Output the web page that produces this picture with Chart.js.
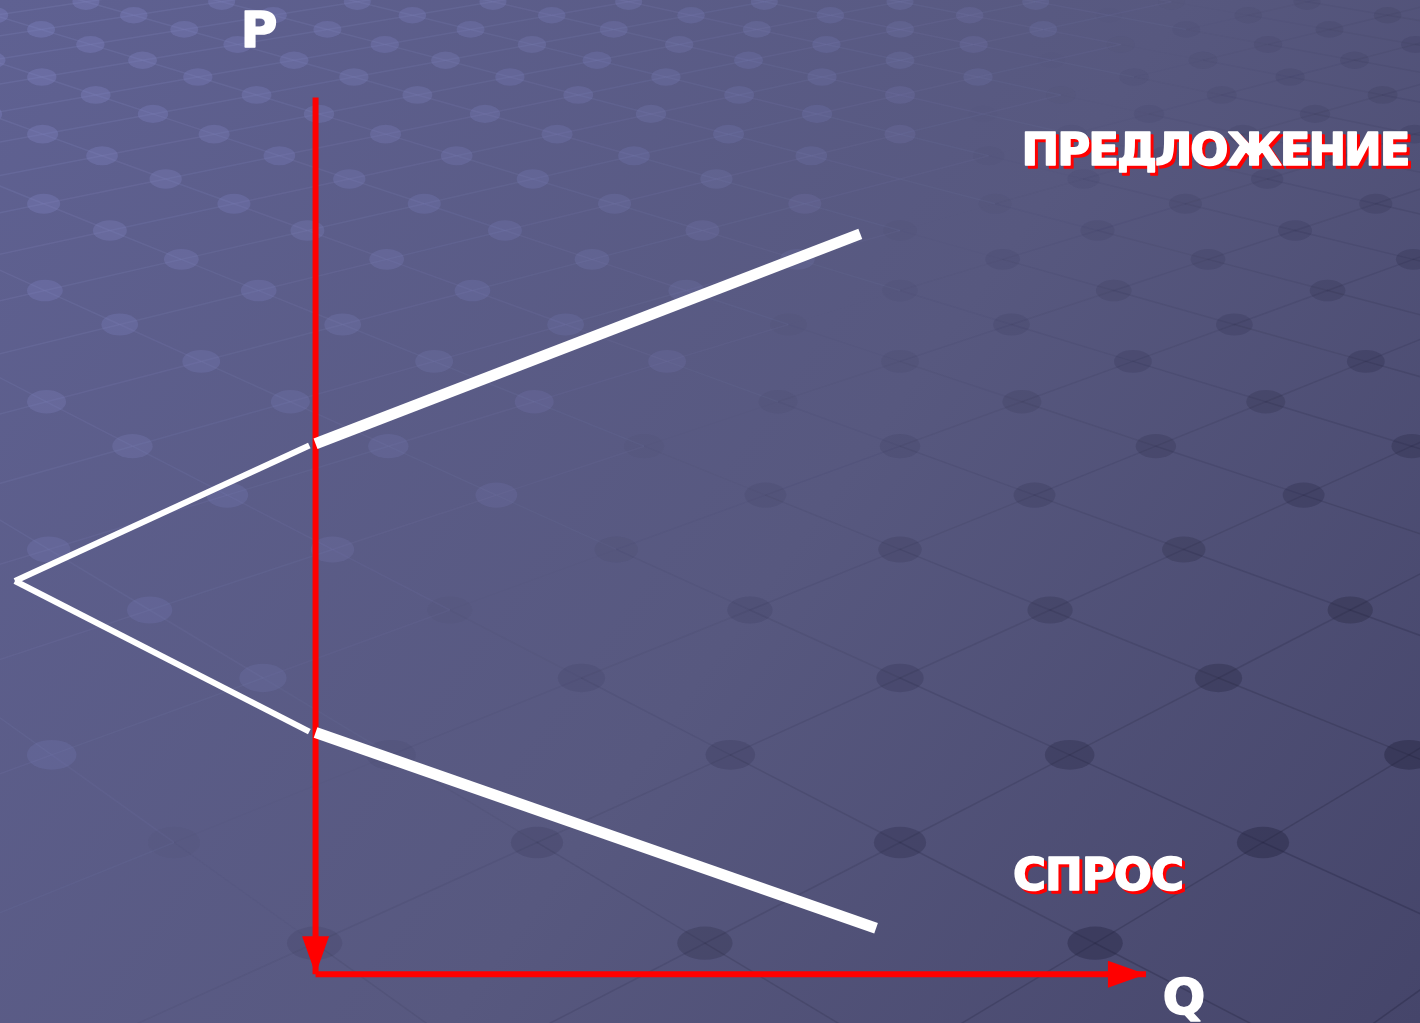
<!DOCTYPE html>
<html>
<head>
<meta charset="utf-8">
<title>Спрос и предложение</title>
<script src="https://cdn.jsdelivr.net/npm/chart.js@4.4.1/dist/chart.umd.min.js"></script>
<style>
  html, body { margin: 0; padding: 0; overflow: hidden; background: #54568a; }
  canvas { display: block; }
</style>
</head>
<body>
<canvas id="spChart" width="1420" height="1023"></canvas>
<script>
// Оси и кривые (Q - количество, P - цена)
const pAxisQ = [0, 0];
const pAxisP = [99, 0];
const qAxisQ = [0, 100];
const qAxisP = [0, 0];

// предложение: тонкая часть слева от оси P и основная часть
const supplyLeftQ = [-36.2, -0.75];
const supplyLeftP = [44.4, 59.7];
const supplyQ = [0, 65.6];
const supplyP = [59.9, 83.6];

// спрос
const demandLeftQ = [-36.2, -0.75];
const demandLeftP = [44.4, 27.4];
const demandQ = [0, 67.5];
const demandP = [27.3, 5.2];

const labelP = 'P';
const labelQ = 'Q';
const labelSupply = 'ПРЕДЛОЖЕНИЕ';
const labelDemand = 'СПРОС';

const pts = (qs, ps) => qs.map((q, i) => ({ x: q, y: ps[i] }));

// фон слайда: градиент + решётка с точками в перспективе
const slideBackground = {
    id: 'slideBackground',
    beforeDraw(chart) {
        const { ctx, width, height } = chart;
        ctx.save();
        const g = ctx.createLinearGradient(0, 0, width, height);
        g.addColorStop(0, '#5f6192');
        g.addColorStop(0.55, '#57587f');
        g.addColorStop(1, '#45456a');
        ctx.fillStyle = g;
        ctx.fillRect(0, 0, width, height);

        const hy = -500, K = 10000, a = 0.52, rho = 0.26, cx = 900, z0 = 0.169;
        const proj = (i, j) => {
            const Z = z0 + (i + j) * a;
            return [cx + K * rho * (i - j) * a / Z, hy + K / Z];
        };
        const shade = (x, y) => (x + 1.2 * y) / (width + 1.2 * height);

        // линии решётки
        ctx.lineWidth = 1.5;
        for (let i = 0; i < 45; i++) {
            for (let j = 0; j < 45; j++) {
                const n = i + j;
                if (n < 12 || n > 40) continue;
                const p = proj(i, j);
                [[i + 1, j], [i, j + 1]].forEach(([ii, jj]) => {
                    const q = proj(ii, jj);
                    if (Math.max(p[0], q[0]) < -60 || Math.min(p[0], q[0]) > width + 60) return;
                    const s = shade((p[0] + q[0]) / 2, (p[1] + q[1]) / 2);
                    ctx.strokeStyle = s < 0.45
                        ? 'rgba(140,145,200,' + (0.2 - s * 0.3).toFixed(3) + ')'
                        : 'rgba(30,30,55,' + Math.min(0.3, (s - 0.45) * 0.6).toFixed(3) + ')';
                    ctx.beginPath();
                    ctx.moveTo(p[0], p[1]);
                    ctx.lineTo(q[0], q[1]);
                    ctx.stroke();
                });
            }
        }
        // точки
        for (let i = 0; i < 45; i++) {
            for (let j = 0; j < 45; j++) {
                const n = i + j;
                if (n < 12 || n > 40) continue;
                const [x, y] = proj(i, j);
                if (x < -40 || x > width + 40 || y < -30 || y > height + 30) continue;
                const rx = 6 + 0.015 * (y - hy);
                const s = shade(x, y);
                ctx.fillStyle = s < 0.42
                    ? 'rgba(125,128,190,' + (0.42 - s * 0.6).toFixed(3) + ')'
                    : 'rgba(35,35,62,' + Math.min(0.42, (s - 0.42) * 0.9).toFixed(3) + ')';
                ctx.beginPath();
                ctx.ellipse(x, y, rx, rx * 0.6, 0, 0, Math.PI * 2);
                ctx.fill();
            }
        }
        ctx.restore();
    }
};

// стрелки на концах осей
const arrowHeads = {
    id: 'arrowHeads',
    afterDatasetsDraw(chart) {
        const { ctx } = chart;
        chart.data.datasets.forEach((ds, idx) => {
            if (!ds.arrowHead) return;
            const els = chart.getDatasetMeta(idx).data;
            const tip = els[els.length - 1], prev = els[els.length - 2];
            const ang = Math.atan2(tip.y - prev.y, tip.x - prev.x);
            const len = 38, half = 13.5;
            ctx.save();
            ctx.translate(tip.x, tip.y);
            ctx.rotate(ang);
            ctx.fillStyle = ds.borderColor;
            ctx.beginPath();
            ctx.moveTo(0, 0);
            ctx.lineTo(-len, -half);
            ctx.lineTo(-len, half);
            ctx.closePath();
            ctx.fill();
            ctx.restore();
        });
    }
};

// подписи
const drawBold = (ctx, text, x, y, color) => {
    ctx.fillStyle = color;
    ctx.strokeStyle = color;
    ctx.lineWidth = 1.6;
    ctx.lineJoin = 'round';
    ctx.strokeText(text, x, y);
    ctx.fillText(text, x, y);
};

const axisLabels = {
    id: 'axisLabels',
    afterDraw(chart) {
        const { ctx } = chart;
        ctx.save();
        ctx.textAlign = 'center';
        ctx.textBaseline = 'alphabetic';
        ctx.font = 'bold 50px "DejaVu Sans"';
        drawBold(ctx, labelP, 259, 47, '#ffffff');
        drawBold(ctx, labelQ, 1184, 1014, '#ffffff');

        ctx.font = 'bold 45px "DejaVu Sans"';
        [[labelSupply, 1215, 165, '-2px'], [labelDemand, 1098, 890, '-1px']].forEach(([t, x, y, ls]) => {
            ctx.letterSpacing = ls;
            drawBold(ctx, t, x + 3, y + 3, '#ff0000');
            drawBold(ctx, t, x, y, '#ffffff');
        });
        ctx.restore();
    }
};

const line = (data, color, width, order, extra) => Object.assign({
    data: data,
    showLine: true,
    borderColor: color,
    backgroundColor: color,
    borderWidth: width,
    borderCapStyle: 'butt',
    pointRadius: 0,
    pointHoverRadius: 0,
    clip: false,
    order: order
}, extra || {});

const ctx = document.getElementById('spChart').getContext('2d');
new Chart(ctx, {
    type: 'scatter',
    data: {
        datasets: [
            line(pts(supplyQ, supplyP), '#ffffff', 11, 1, { label: 'Предложение' }),
            line(pts(supplyLeftQ, supplyLeftP), '#ffffff', 6, 1, { label: 'Предложение (продолжение)' }),
            line(pts(demandQ, demandP), '#ffffff', 11, 1, { label: 'Спрос' }),
            line(pts(demandLeftQ, demandLeftP), '#ffffff', 6, 1, { label: 'Спрос (продолжение)' }),
            line(pts(pAxisQ, pAxisP), '#ff0000', 6, 2, { label: 'P', arrowHead: true }),
            line(pts(qAxisQ, qAxisP), '#ff0000', 6, 2, { label: 'Q', arrowHead: true })
        ]
    },
    options: {
        responsive: false,
        animation: false,
        layout: { padding: 0 },
        events: [],
        plugins: {
            legend: { display: false },
            tooltip: { enabled: false }
        },
        scales: {
            x: { type: 'linear', min: -38, max: 133, display: false },
            y: { type: 'linear', min: -5.5, max: 110, display: false }
        }
    },
    plugins: [slideBackground, arrowHeads, axisLabels]
});
</script>
</body>
</html>
